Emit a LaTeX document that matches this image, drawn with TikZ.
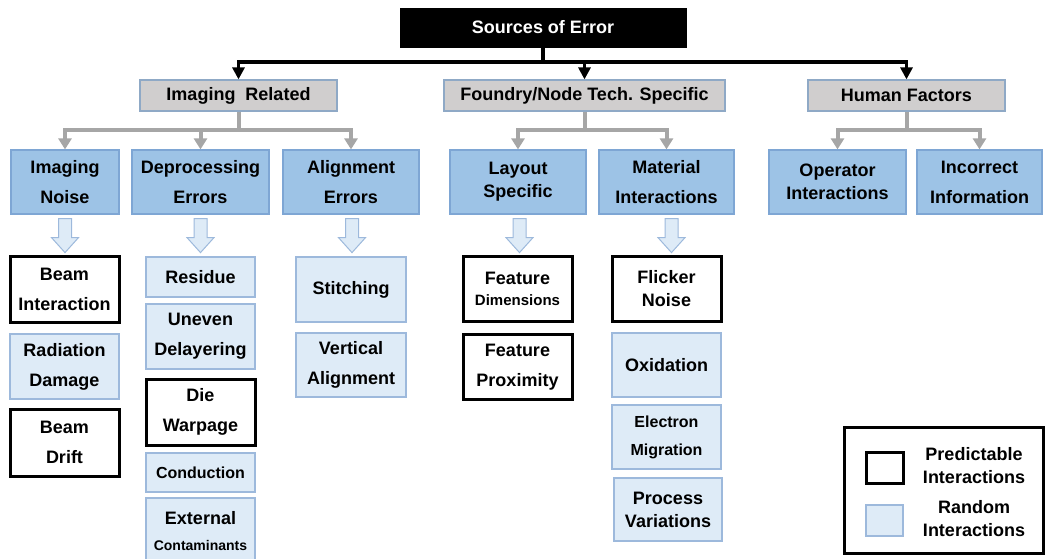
\documentclass[tikz,border=0pt]{standalone}
\usepackage{fontspec}
\setmainfont{Liberation Sans}
\usetikzlibrary{arrows.meta}

\definecolor{catblue}{HTML}{9DC3E6}
\definecolor{catedge}{HTML}{7EA6D4}
\definecolor{leafblue}{HTML}{DEEBF7}
\definecolor{leafedge}{HTML}{9DB9DC}
\definecolor{boxgrey}{HTML}{D0CECE}
\definecolor{greyedge}{HTML}{8FA9C6}
\definecolor{linegrey}{HTML}{A6A6A6}

\tikzset{
  box/.style={draw, inner sep=0pt, align=center, font=\bfseries\fontsize{18}{30}\selectfont},
  tight/.style={font=\bfseries\fontsize{18}{23}\selectfont},
  topbox/.style={box, fill=black, text=white, minimum width=286, minimum height=39},
  groupbox/.style={box, fill=boxgrey, draw=greyedge, line width=1.2pt, minimum height=31},
  catbox/.style={box, fill=catblue, draw=catedge, line width=1.2pt, minimum height=64},
  predict/.style={box, fill=white, draw=black, line width=3pt},
  random/.style={box, fill=leafblue, draw=leafedge, line width=1.2pt},
  blackline/.style={line width=3.5pt, black},
  greyline/.style={line width=4pt, linegrey},
  blockarrow/.style={fill=leafblue, draw=leafedge, line width=1pt},
}

\begin{document}
\begin{tikzpicture}[x=1pt,y=-1pt]
\useasboundingbox (0,0) rectangle (1045,559);
	%top and groups------------------------------
	\node[topbox] (src) at (543,27.5) {Sources of Error};
	\node[groupbox, minimum width=197] (img) at (238.5,95.5) {Imaging~ Related};
	\node[groupbox, minimum width=281] (fab) at (584.5,95.5) {Foundry/Node Tech. Specific};
	\node[groupbox, minimum width=197] (hum) at (906.5,95.5) {Human Factors};

	\coordinate (srcj) at (543,62);
	\draw[blackline] (src) -- (srcj);
	\foreach \g in {img,fab,hum}
		\draw[blackline, -{Triangle[width=12pt,length=12pt]}] (srcj) -| (\g); %black arrows

	%categories---------------------------------
	\node[catbox, minimum width=108] (noise) at (65,182) {Imaging\\Noise};
	\node[catbox, minimum width=137] (depro) at (200.5,182) {Deprocessing\\Errors};
	\node[catbox, minimum width=136] (align) at (351,182) {Alignment\\Errors};
	\node[catbox, tight, minimum width=136] (layout) at (518,182) {Layout\\Specific};
	\node[catbox, minimum width=135] (mater) at (666.5,182) {Material\\Interactions};
	\node[catbox, tight, minimum width=137] (oper) at (837.5,182) {Operator\\Interactions};
	\node[catbox, minimum width=125] (incor) at (979.5,182) {Incorrect\\Information};

	%grey connectors
	\coordinate (imgj) at (238.5,130);
	\coordinate (fabj) at (584.5,130);
	\coordinate (humj) at (906.5,130);
	\draw[greyline] (img) -- (imgj);
	\draw[greyline] (fab) -- (fabj);
	\draw[greyline] (hum) -- (humj);
	\foreach \j/\c in {imgj/noise,imgj/depro,imgj/align,fabj/layout,fabj/mater,humj/oper,humj/incor}
		\draw[greyline, -{Triangle[width=13pt,length=11pt]}] (\j) -| (\c);

	%block arrows
	\foreach \c/\dx in {noise/0,depro/0,align/1,layout/1.5,mater/5}
		\draw[blockarrow] ([shift={(\dx-6.5,4)}]\c.south) -- ++(0,19) -- ++(-7,0) -- ++(13.5,15)
			-- ++(13.5,-15) -- ++(-7,0) -- ++(0,-19) -- cycle;

	%imaging noise column
	\node[predict, minimum width=109, minimum height=66] (bint) at (64.5,289) {Beam\\Interaction};
	\node[random, minimum width=109, minimum height=65] (rdam) at (64.5,366.5) {Radiation\\Damage};
	\node[predict, minimum width=109, minimum height=67] (bdri) at (64.5,442.5) {Beam\\Drift};

	%deprocessing column
	\node[random, minimum width=109, minimum height=40] (resid) at (200.5,277) {Residue};
	\node[random, minimum width=109, minimum height=65] (uneven) at (200.5,336.5) {Uneven\\Delayering};
	\node[predict, minimum width=109, minimum height=66] (diew) at (200.5,412) {Die\\Warpage};
	\node[random, minimum width=109, minimum height=39, font=\bfseries\fontsize{16}{20}\selectfont] (cond) at (200.5,472.5) {Conduction};
	\node[random, minimum width=109, minimum height=66] (extc) at (200.5,531) {External\\[-3.5pt]{\fontsize{14}{14}\selectfont Contaminants}};

	%alignment column
	\node[random, minimum width=110, minimum height=65] (stitch) at (351,289.5) {Stitching};
	\node[random, minimum width=110, minimum height=64] (vert) at (351,365) {Vertical\\Alignment};

	%layout column
	\node[predict, minimum width=109, minimum height=65] (fdim) at (517.5,288.5) {Feature\\[-9pt]{\fontsize{15}{15}\selectfont Dimensions}};
	\node[predict, minimum width=109, minimum height=65] (fprox) at (517.5,367) {Feature\\Proximity};

	%material column
	\node[predict, tight, minimum width=109, minimum height=65] (flick) at (666.5,288.5) {Flicker\\Noise};
	\node[random, minimum width=109, minimum height=64] (oxid) at (666.5,365) {Oxidation};
	\node[random, minimum width=109, minimum height=64, font=\bfseries\fontsize{16}{28}\selectfont] (elec) at (666.5,437) {Electron\\Migration};
	\node[random, tight, minimum width=108, minimum height=63] (proc) at (668,509.5) {Process\\Variations};

	%legend-------------------------------------
	\node[predict, minimum width=199, minimum height=126] (legend) at (944,490) {};
	\node[predict, minimum width=37, minimum height=31] (legp) at (884.5,467.5) {};
	\node[random, minimum width=37, minimum height=31] (legr) at (884.5,520.5) {};
	\node[tight, align=center] (legpt) at (974,466) {Predictable\\Interactions};
	\node[tight, align=center] (legrt) at (974,518.5) {Random\\Interactions};

\end{tikzpicture}
\end{document}
